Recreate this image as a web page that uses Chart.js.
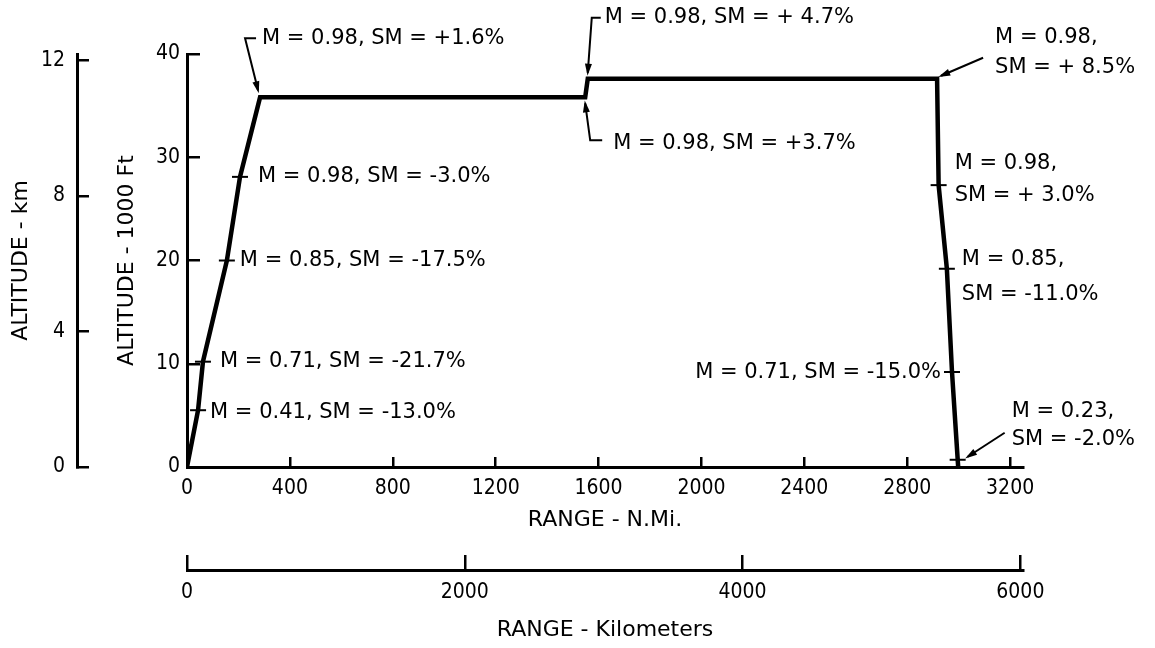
<!DOCTYPE html>
<html>
<head>
<meta charset="utf-8">
<script src="https://cdn.jsdelivr.net/npm/chart.js@4.4.1/dist/chart.umd.min.js"></script>
<style>
body { margin: 0; background: #fff; }
#wrap { width: 1155px; height: 648px; }
</style>
</head>
<body>
<div id="wrap"><canvas id="myChart"></canvas></div>
<script>
// flight profile: range in n.mi., altitude in 1000 ft
const profileRange = [0, 43, 62, 155, 206, 284, 1548, 1558, 2916, 2922, 2954, 2974, 2998];
const profileAlt   = [0, 5.5, 10.2, 20.0, 28.1, 35.8, 35.8, 37.6, 37.6, 27.3, 19.2, 9.2, 0];

// small tick marks on the profile
const markRange = [43, 62, 155, 206, 2922, 2954, 2974, 2996];
const markAlt   = [5.5, 10.2, 20.0, 28.1, 27.3, 19.2, 9.2, 0.7];

// mach number / static margin notes and the profile point each refers to
const noteText = [
    "M = 0.41, SM = -13.0%",
    "M = 0.71, SM = -21.7%",
    "M = 0.85, SM = -17.5%",
    "M = 0.98, SM = -3.0%",
    "M = 0.98, SM = +1.6%",
    "M = 0.98, SM = +3.7%",
    "M = 0.98, SM = + 4.7%",
    "M = 0.98,\nSM = + 8.5%",
    "M = 0.98,\nSM = + 3.0%",
    "M = 0.85,\nSM = -11.0%",
    "M = 0.71, SM = -15.0%",
    "M = 0.23,\nSM = -2.0%"
];
const noteRange = [43, 62, 155, 206, 284, 1548, 1558, 2916, 2922, 2954, 2974, 2996];
const noteAlt   = [5.5, 10.2, 20.0, 28.1, 35.8, 35.8, 37.6, 37.6, 27.3, 19.2, 9.2, 0.7];

// axis ticks
const rangeTicks   = [0, 400, 800, 1200, 1600, 2000, 2400, 2800, 3200];
const rangeKmTicks = [0, 2000, 4000, 6000];
const altTicks     = [0, 10, 20, 30, 40];
const altKmTicks   = [0, 4, 8, 12];

const rangeMax = 3250;      // n.mi.
const altMax = 40;          // 1000 ft
const KM_PER_NMI = 1.852;
const KM_PER_KFT = 0.3048;

// where each note sits, in pixels from its point
const noteLayout = [
    { dx: 12, dy: 2 },
    { dx: 17, dy: 0 },
    { dx: 13, dy: 0 },
    { dx: 18, dy: 0 },
    { dx: 2, dy: -59, lead: [[-2, -7], [-15, -59], [-4, -59]] },
    { dx: 28, dy: 46, lead: [[0, 6], [5, 43], [17, 43]] },
    { dx: 17, dy: -61, lead: [[0, -6], [4, -61], [13, -61]] },
    { dx: 58, dy: -41, gap: 30, lead: [[4, -3], [46, -21]] },
    { dx: 16, dy: -22, gap: 32 },
    { dx: 15, dy: -9, gap: 35 },
    { dx: -11, dy: 1, align: 'right' },
    { dx: 54, dy: -48, gap: 28, lead: [[10, -3], [47, -27]] }
];

const tickFont = { family: "'DejaVu Sans Condensed', 'DejaVu Sans', sans-serif", size: 21 };
const titleFont = { family: "'DejaVu Sans', sans-serif", size: 22 };

Chart.defaults.color = '#000';

const notesPlugin = {
    id: 'notes',
    afterDatasetsDraw(chart)
    {
        const ctx = chart.ctx;
        const x = chart.scales.x;
        const y = chart.scales.y;
        ctx.save();
        ctx.fillStyle = '#000';
        ctx.strokeStyle = '#000';
        ctx.lineWidth = 2;
        ctx.font = "21px 'DejaVu Sans', sans-serif";
        ctx.textBaseline = 'middle';
        noteText.forEach((text, i) =>
        {
            const ax = x.getPixelForValue(noteRange[i]);
            const ay = y.getPixelForValue(noteAlt[i]);
            const lay = noteLayout[i];
            ctx.textAlign = lay.align || 'left';
            text.split('\n').forEach((line, k) =>
            {
                ctx.fillText(line, ax + lay.dx, ay + lay.dy + k * (lay.gap || 30));
            });
            if (lay.lead)
            {
                const pts = lay.lead.map(p => [ax + p[0], ay + p[1]]);
                ctx.beginPath();
                ctx.moveTo(pts[0][0], pts[0][1]);
                for (let k = 1; k < pts.length; k++) ctx.lineTo(pts[k][0], pts[k][1]);
                ctx.stroke();
                // arrow head at the profile end
                const ang = Math.atan2(pts[0][1] - pts[1][1], pts[0][0] - pts[1][0]);
                ctx.beginPath();
                ctx.moveTo(pts[0][0] + Math.cos(ang) * 3, pts[0][1] + Math.sin(ang) * 3);
                ctx.lineTo(pts[0][0] - Math.cos(ang) * 9 - Math.sin(ang) * 3.5, pts[0][1] - Math.sin(ang) * 9 + Math.cos(ang) * 3.5);
                ctx.lineTo(pts[0][0] - Math.cos(ang) * 9 + Math.sin(ang) * 3.5, pts[0][1] - Math.sin(ang) * 9 - Math.cos(ang) * 3.5);
                ctx.closePath();
                ctx.fill();
            }
        });
        ctx.restore();
    }
};

function axisBits(title, pad, tickLen, tickValues, tickPad)
{
    return {
        type: 'linear',
        afterBuildTicks: s => { s.ticks = tickValues.map(v => ({ value: v })); },
        ticks: {
            padding: tickPad, font: tickFont, color: '#000',
            maxRotation: 0, autoSkip: false,
            callback: v => String(v)
        },
        grid: { drawOnChartArea: false, tickLength: tickLen, color: '#000', lineWidth: 2.5 },
        border: { color: '#000', width: 3 },
        title: { display: true, text: title, font: titleFont, color: '#000', padding: pad }
    };
}

new Chart(document.getElementById('myChart'), {
    type: 'scatter',
    data: {
        datasets: [
            {
                label: 'profile',
                data: profileRange.map((r, i) => ({ x: r, y: profileAlt[i] })),
                showLine: true,
                borderColor: '#000',
                borderWidth: 4.5,
                borderJoinStyle: 'miter',
                pointRadius: 0,
                xAxisID: 'x',
                yAxisID: 'y'
            },
            {
                label: 'marks',
                data: markRange.map((r, i) => ({ x: r, y: markAlt[i] })),
                showLine: false,
                pointStyle: 'line',
                pointRadius: 8,
                pointBorderWidth: 2,
                pointBorderColor: '#000',
                xAxisID: 'x',
                yAxisID: 'y'
            }
        ]
    },
    options: {
        responsive: true,
        maintainAspectRatio: false,
        animation: false,
        layout: { padding: { left: 0, top: 54, right: 132, bottom: 0 } },
        plugins: {
            legend: { display: false },
            tooltip: { enabled: false }
        },
        scales: {
            x: Object.assign(axisBits('RANGE - N.Mi.', { bottom: 37 }, -10, rangeTicks, 19), {
                position: 'bottom', weight: 0,
                min: 0, max: rangeMax,
                afterFit: s => { s.height = 103; }
            }),
            xkm: Object.assign(axisBits('RANGE - Kilometers', { bottom: 5 }, -15, rangeKmTicks, 25), {
                position: 'bottom', weight: 1,
                min: 0, max: rangeMax * KM_PER_NMI,
                afterFit: s => { s.height = 78; }
            }),
            y: Object.assign(axisBits('ALTITUDE - 1000 Ft', { top: 37 }, -13, altTicks, 20), {
                position: 'left', weight: 0,
                min: 0, max: altMax,
                afterFit: s => { s.width = 110; }
            }),
            ykm: Object.assign(axisBits('ALTITUDE - km', { top: 8 }, -12, altKmTicks, 24), {
                position: 'left', weight: 1,
                min: 0, max: altMax * KM_PER_KFT,
                afterFit: s => { s.width = 77; }
            })
        }
    },
    plugins: [notesPlugin]
});
</script>
</body>
</html>
